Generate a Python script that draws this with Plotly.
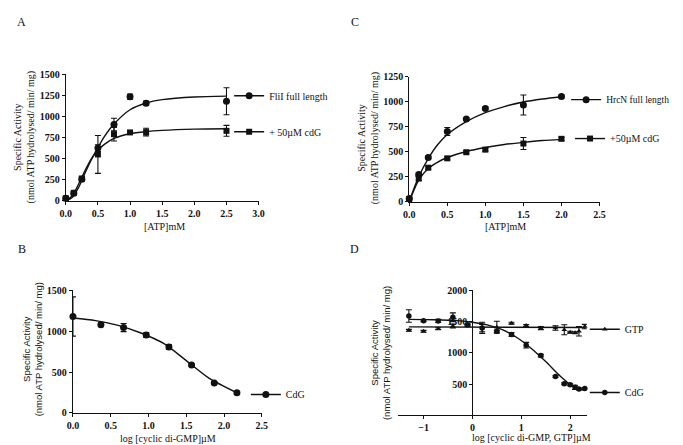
import plotly.graph_objects as go

# ---------------- Panel A ----------------
a_x = [0, 0.125, 0.25, 0.5, 0.75, 1.0, 1.25, 2.5]
a_flil = [30, 90, 255, 625, 905, 1235, 1158, 1180]
a_flil_err = [10, 15, 20, 40, 75, 30, 25, 160]
a_cdg = [30, 95, 265, 550, 790, 811, 815, 830]
a_cdg_err = [10, 15, 20, 225, 80, 15, 45, 65]
a_fit_x = [0, 0.1, 0.2, 0.3, 0.4, 0.5, 0.6, 0.75, 1.0, 1.25, 1.5, 2.0, 2.5]
a_fit_flil = [0, 40, 160, 330, 490, 630, 760, 910, 1080, 1160, 1200, 1232, 1242]
a_fit_cdg = [0, 60, 200, 360, 500, 600, 670, 740, 795, 820, 835, 850, 855]

# ---------------- Panel C ----------------
c_x = [0, 0.125, 0.25, 0.5, 0.75, 1.0, 1.5, 2.0]
c_hrcn = [30, 270, 440, 700, 825, 930, 965, 1050]
c_hrcn_err = [10, 15, 15, 40, 15, 15, 100, 15]
c_cdg = [25, 230, 338, 432, 493, 519, 580, 627]
c_cdg_err = [10, 20, 15, 15, 15, 15, 60, 15]
c_fit_x = [0, 0.125, 0.25, 0.375, 0.5, 0.75, 1.0, 1.25, 1.5, 1.75, 2.0]
c_fit_hrcn = [0, 250, 430, 570, 670, 800, 890, 950, 995, 1025, 1048]
c_fit_cdg = [0, 215, 330, 395, 440, 500, 540, 570, 592, 610, 622]

# ---------------- Panel B ----------------
b_x = [0, 0.37, 0.67, 0.97, 1.27, 1.57, 1.87, 2.17]
b_y = [1180, 1080, 1045, 955, 806, 587, 367, 246]
b_err = [240, 20, 50, 30, 30, 15, 15, 15]
b_fit_x = [0, 0.3, 0.6, 0.9, 1.2, 1.5, 1.8, 2.17]
b_fit_y = [1162, 1130, 1072, 978, 850, 640, 425, 246]

# ---------------- Panel D ----------------
d_x = [-1.3, -1.0, -0.7, -0.4, -0.1, 0.2, 0.5, 0.8, 1.1, 1.4, 1.7, 1.88, 2.0, 2.1, 2.18, 2.3]
d_cdg = [1590, 1515, 1510, 1570, 1448, 1396, 1345, 1293, 1122, 956, 620, 505, 490, 448, 422, 430]
d_cdg_err = [100, 15, 25, 70, 15, 60, 15, 30, 45, 20, 15, 15, 15, 35, 15, 15]
d_gtp = [1360, 1345, 1386, 1430, 1440, 1400, 1410, 1474, 1438, 1396, 1396, 1370, 1330, 1320, 1345, 1420]
d_gtp_err = [15, 15, 15, 30, 15, 90, 95, 15, 15, 25, 35, 80, 15, 15, 75, 35]
d_cdg_fit_x = [-1.3, -0.8, -0.3, 0.0, 0.3, 0.6, 0.9, 1.2, 1.5, 1.8, 2.0, 2.1, 2.3]
d_cdg_fit_y = [1536, 1530, 1515, 1490, 1448, 1375, 1250, 1075, 860, 625, 495, 450, 400]
d_gtp_fit_x = [-1.3, 2.3]
d_gtp_fit_y = [1415, 1405]

# ---------------- Texts ----------------
panel_letters = ["A", "C", "B", "D"]
ytitle = "Specific Activity<br>(nmol ATP hydrolysed/ min/ mg)"
xtitles = ["[ATP]mM", "[ATP]mM", "log [cyclic di-GMP]\u00b5M",
           "log [cyclic di-GMP, GTP]\u00b5M"]
legend_names = ["FliI full length", "+ 50\u00b5M cdG", "HrcN full length",
                "+50\u00b5M cdG", "CdG", "GTP", "CdG"]

W, H = 683, 445
SERIF = "Liberation Serif"
SANS = "Liberation Sans"
BLACK = "#111111"


def px(x):
    return x / W


def py(y):
    return 1 - y / H


fig = go.Figure()


def data_trace(x, y, err, xa, ya, symbol, size=7):
    fig.add_trace(go.Scatter(
        x=x, y=y, mode="markers", xaxis=xa, yaxis=ya, showlegend=False,
        marker=dict(symbol=symbol, size=size, color=BLACK),
        error_y=dict(type="data", array=err, visible=True, color=BLACK,
                     thickness=1.1, width=3),
        cliponaxis=False))


def fit_trace(x, y, xa, ya):
    fig.add_trace(go.Scatter(
        x=x, y=y, mode="lines", xaxis=xa, yaxis=ya, showlegend=False,
        line=dict(color=BLACK, width=1.4, shape="spline", smoothing=0.8),
        cliponaxis=False))


def legend_trace(name, symbol, legend, size=7):
    fig.add_trace(go.Scatter(
        x=[None], y=[None], mode="lines+markers", name=name, legend=legend,
        marker=dict(symbol=symbol, size=size, color=BLACK),
        line=dict(color=BLACK, width=1.4), xaxis="x", yaxis="y"))


# A
fit_trace(a_fit_x, a_fit_flil, "x", "y")
fit_trace(a_fit_x, a_fit_cdg, "x", "y")
data_trace(a_x, a_flil, a_flil_err, "x", "y", "circle")
data_trace(a_x, a_cdg, a_cdg_err, "x", "y", "square", 6)
# C
fit_trace(c_fit_x, c_fit_hrcn, "x2", "y2")
fit_trace(c_fit_x, c_fit_cdg, "x2", "y2")
data_trace(c_x, c_hrcn, c_hrcn_err, "x2", "y2", "circle")
data_trace(c_x, c_cdg, c_cdg_err, "x2", "y2", "square", 6)
# B
fit_trace(b_fit_x, b_fit_y, "x3", "y3")
data_trace(b_x, b_y, b_err, "x3", "y3", "circle")
# D
fit_trace(d_gtp_fit_x, d_gtp_fit_y, "x4", "y4")
fit_trace(d_cdg_fit_x, d_cdg_fit_y, "x4", "y4")
data_trace(d_x, d_gtp, d_gtp_err, "x4", "y4", "triangle-up", 5)
data_trace(d_x, d_cdg, d_cdg_err, "x4", "y4", "circle", 5.5)

legend_symbols = ["circle", "square", "circle", "square", "circle",
                  "triangle-up", "circle"]
legend_sizes = [7, 6, 7, 6, 7, 5, 5.5]
legend_ids = ["legend", "legend2", "legend3", "legend4", "legend5",
              "legend6", "legend7"]
for nm, sym, sz, lid in zip(legend_names, legend_symbols, legend_sizes, legend_ids):
    legend_trace(nm, sym, lid, sz)

tickfont = dict(family=SERIF, size=10, color=BLACK, weight=700)


def axis(domain, rng, dtick=None, tickvals=None, fmt=None, **kw):
    d = dict(domain=domain, range=rng, showline=True, linecolor=BLACK,
             linewidth=1.2, ticks="outside", ticklen=3, tickwidth=1.2,
             tickcolor=BLACK, showgrid=False, zeroline=False,
             tickfont=tickfont, fixedrange=True)
    if dtick is not None:
        d["dtick"] = dtick
        d["tick0"] = 0
    if tickvals is not None:
        d["tickvals"] = tickvals
    if fmt:
        d["tickformat"] = fmt
    d.update(kw)
    return d


fig.update_layout(
    width=W, height=H, margin=dict(l=0, r=0, t=0, b=0),
    paper_bgcolor="white", plot_bgcolor="white",
    xaxis=axis([px(52.7), px(249)], [0, 3.0], dtick=0.5, fmt=".1f", anchor="y"),
    yaxis=axis([py(192), py(62)], [0, 1500], dtick=250, anchor="x"),
    xaxis2=axis([px(402.3), px(596)], [0, 2.5], dtick=0.5, fmt=".1f", anchor="y2"),
    yaxis2=axis([py(192.7), py(64.3)], [0, 1250], dtick=250, anchor="x2"),
    xaxis3=axis([px(60), px(252.3)], [0, 2.5], dtick=0.5, fmt=".1f", anchor="y3"),
    yaxis3=axis([py(410), py(284)], [0, 1500], dtick=500, anchor="x3"),
    xaxis4=axis([px(391), px(583)], [-1.52, 2.34], tickvals=[-1, 0, 1, 2], anchor="y4"),
    yaxis4=axis([py(412.5), py(284)], [0, 2000], tickvals=[500, 1000, 1500, 2000],
                anchor="free",
                position=px(391) + (1.52 / 3.86) * (px(583) - px(391))),
    showlegend=True,
)

leg_pos = [(219, 84), (219, 121), (562, 88), (566, 128), (236, 391),
           (581, 324), (581, 389)]
leg_sizes = [10, 10, 9.5, 10, 10, 10, 10]
for lid, (lx, ly), fs in zip(legend_ids, leg_pos, leg_sizes):
    fig.update_layout({lid: dict(x=px(lx), y=py(ly), xanchor="left",
                                 yanchor="middle",
                                 font=dict(family=SERIF, size=fs, color=BLACK),
                                 bgcolor="rgba(0,0,0,0)", borderwidth=0,
                                 itemwidth=30)})

for letter, (lx, ly) in zip(panel_letters, [(8, 8), (347, 8), (8, 242), (347, 242)]):
    fig.add_annotation(text=letter, x=px(lx), y=py(ly), xref="paper", yref="paper",
                       showarrow=False, xanchor="center", yanchor="middle",
                       font=dict(family=SERIF, size=12, color=BLACK))

# y-axis titles
for (lx, ly), fam in zip([(11, 127), (361, 128), (19, 345), (373, 348)],
                         [SERIF, SERIF, SANS, SANS]):
    fig.add_annotation(text=ytitle, x=px(lx), y=py(ly), xref="paper", yref="paper",
                       showarrow=False, textangle=-90, xanchor="center",
                       yanchor="middle",
                       font=dict(family=fam, size=10 if fam == SERIF else 9.5,
                                 color=BLACK))

# x-axis titles
for t, (lx, ly) in zip(xtitles, [(153, 218), (500, 218), (157, 436), (527, 435)]):
    fig.add_annotation(text=t, x=px(lx), y=py(ly), xref="paper", yref="paper",
                       showarrow=False, xanchor="center", yanchor="middle",
                       font=dict(family=SERIF, size=10, color=BLACK))

fig.write_html("out.html")
